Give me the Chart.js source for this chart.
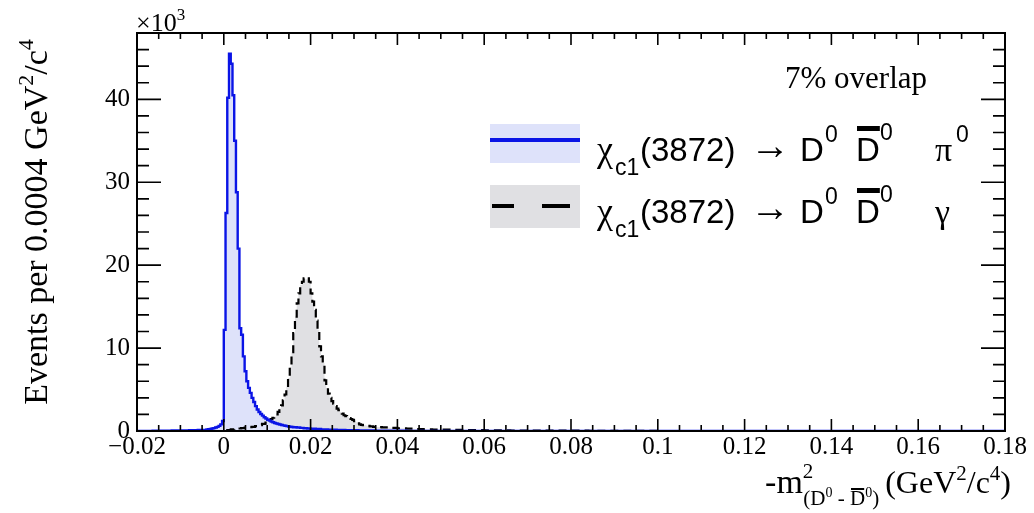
<!DOCTYPE html>
<html>
<head>
<meta charset="utf-8">
<script src="https://cdn.jsdelivr.net/npm/chart.js@4.4.1/dist/chart.umd.min.js"></script>
<style>
  html, body { margin: 0; padding: 0; background: #fff; }
  #wrap { width: 1034px; height: 513px; }
</style>
</head>
<body>
<div id="wrap"><canvas id="histo"></canvas></div>
<script>
// histogram bins (left edges, GeV^2/c^4) and contents (x10^3 events per 0.0004)
const piEdges = [-0.02, -0.0164, -0.012, -0.008, -0.006, -0.004, -0.0036, -0.0032, -0.0028, -0.0024,
  -0.002, -0.0016, -0.0012, -0.0008, -0.0004, 0.0, 0.0004, 0.0008, 0.0012, 0.0016,
  0.002, 0.0024, 0.0028, 0.0032, 0.0036, 0.004, 0.0044, 0.0048, 0.0052, 0.0056,
  0.006, 0.0064, 0.0068, 0.0072, 0.0076, 0.008, 0.0084, 0.0088, 0.0092, 0.0096,
  0.01, 0.0104, 0.0108, 0.0112, 0.0116, 0.012, 0.0124, 0.0128, 0.0132, 0.0136,
  0.014, 0.0144, 0.0148, 0.0152, 0.0156, 0.016, 0.0168, 0.0176, 0.0184, 0.0192,
  0.02, 0.0212, 0.0224, 0.024, 0.026, 0.028, 0.031, 0.035, 0.042, 0.052, 0.065, 0.18];
const piCounts = [0, 0.03, 0.06, 0.1, 0.14, 0.2, 0.22, 0.25, 0.3, 0.35,
  0.42, 0.5, 0.62, 0.8, 1.2, 12.2, 26.3, 40.2, 45.5, 44.3,
  40.5, 35.0, 28.8, 22.0, 12.4, 11.6, 9.0, 7.2, 6.0, 5.2,
  4.6, 4.0, 3.5, 3.0, 2.6, 2.3, 2.05, 1.85, 1.65, 1.5,
  1.35, 1.25, 1.15, 1.05, 0.97, 0.9, 0.84, 0.78, 0.73, 0.68,
  0.63, 0.59, 0.55, 0.52, 0.49, 0.46, 0.42, 0.38, 0.34, 0.31,
  0.28, 0.24, 0.2, 0.16, 0.12, 0.09, 0.06, 0.04, 0.02, 0.01, 0, 0];

const gammaEdges = [-0.02, 0.0, 0.0008, 0.0016, 0.0024, 0.0032, 0.004, 0.0048, 0.0056, 0.0064,
  0.0072, 0.008, 0.0088, 0.0096, 0.01, 0.0104, 0.0108, 0.0112, 0.0116, 0.012,
  0.0124, 0.0128, 0.0132, 0.0136, 0.014, 0.0144, 0.0148, 0.0152, 0.0156, 0.016,
  0.0164, 0.0168, 0.0172, 0.0176, 0.018, 0.0184, 0.0188, 0.0192, 0.0196, 0.02,
  0.0204, 0.0208, 0.0212, 0.0216, 0.022, 0.0224, 0.0228, 0.0232, 0.0236, 0.024,
  0.0244, 0.0248, 0.0252, 0.0256, 0.026, 0.0264, 0.0268, 0.0272, 0.0276, 0.028,
  0.0284, 0.0288, 0.0292, 0.0296, 0.03, 0.0304, 0.0308, 0.0312, 0.0316, 0.032,
  0.0328, 0.0336, 0.0344, 0.0352, 0.0364, 0.038, 0.04, 0.042, 0.044, 0.046,
  0.048, 0.052, 0.056, 0.06, 0.066, 0.074, 0.084, 0.1, 0.18];
const gammaCounts = [0, 0.05, 0.1, 0.2, 0.25, 0.3, 0.35, 0.4, 0.45, 0.5,
  0.6, 0.7, 0.85, 1.0, 1.15, 1.3, 1.45, 1.6, 1.75, 2.0,
  2.3, 2.7, 3.1, 3.7, 4.4, 5.3, 6.4, 7.7, 9.5, 11.8,
  13.8, 15.4, 16.6, 17.6, 18.0, 18.4, 18.3, 18.4, 18.0, 16.6,
  15.6, 14.6, 13.3, 12.2, 10.2, 9.0, 8.2, 6.1, 5.2, 4.5,
  4.0, 3.6, 3.3, 3.0, 2.7, 2.5, 2.3, 2.1, 1.9, 1.8,
  1.7, 1.55, 1.45, 1.35, 1.2, 1.05, 0.92, 0.8, 0.75, 0.7,
  0.62, 0.55, 0.5, 0.47, 0.43, 0.38, 0.33, 0.28, 0.24, 0.2,
  0.17, 0.13, 0.1, 0.08, 0.06, 0.04, 0.02, 0, 0];

const xMin = -0.02, xMax = 0.18, yMax = 48;

const SERIF = "'Liberation Serif', 'DejaVu Serif', serif";
const SANS = "'Liberation Sans', Arial, sans-serif";

function toPoints(edges, counts) {
  return edges.map((e, i) => ({ x: e, y: counts[i] }));
}

// draws a run of text pieces one after another; returns width
function textRun(ctx, x, y, parts, measureOnly) {
  let cx = x;
  parts.forEach(p => {
    ctx.font = p.f;
    const w = ctx.measureText(p.t).width;
    if (!measureOnly) {
      ctx.fillText(p.t, cx, y + (p.dy || 0));
      if (p.bar) {
        ctx.fillRect(cx + p.bar.x, y + (p.dy || 0) - p.bar.h, w - p.bar.x - 1, p.bar.t);
      }
    }
    cx += w + (p.gap || 0);
  });
  return cx - x;
}

const rootFrame = {
  id: 'rootFrame',
  afterDraw(chart) {
    const ctx = chart.ctx;
    const a = chart.chartArea;
    const xs = chart.scales.x, ys = chart.scales.y;
    ctx.save();
    ctx.strokeStyle = '#000';
    ctx.fillStyle = '#000';
    ctx.lineWidth = 2;
    ctx.strokeRect(a.left, a.top, a.right - a.left, a.bottom - a.top);

    // x ticks, pointing in, on bottom and top
    ctx.lineWidth = 1.6;
    for (let k = 0; k <= 40; k++) {
      const v = xMin + k * 0.005;
      const px = xs.getPixelForValue(v);
      const len = (k % 4 === 0) ? 12 : 6;
      ctx.beginPath();
      ctx.moveTo(px, a.bottom); ctx.lineTo(px, a.bottom - len);
      ctx.moveTo(px, a.top); ctx.lineTo(px, a.top + len);
      ctx.stroke();
    }
    // y ticks on left and right
    for (let v = 0; v <= yMax; v += 2) {
      const py = ys.getPixelForValue(v);
      const len = (v % 10 === 0) ? 24 : 12;
      ctx.beginPath();
      ctx.moveTo(a.left, py); ctx.lineTo(a.left + len, py);
      ctx.moveTo(a.right, py); ctx.lineTo(a.right - len, py);
      ctx.stroke();
    }

    ctx.textBaseline = 'alphabetic';
    ctx.textAlign = 'left';

    // x10^3
    textRun(ctx, 136, 31, [
      { t: '\u00d710', f: '26px ' + SERIF },
      { t: '3', f: '17px ' + SERIF, dy: -11 }
    ]);

    // y title, rotated
    const yParts = [
      { t: 'Events per 0.0004 GeV', f: '34px ' + SERIF },
      { t: '2', f: '22px ' + SERIF, dy: -14 },
      { t: '/c', f: '34px ' + SERIF },
      { t: '4', f: '22px ' + SERIF, dy: -14 }
    ];
    const yw = textRun(ctx, 0, 0, yParts, true);
    ctx.save();
    ctx.translate(47, 222 + yw / 2);
    ctx.rotate(-Math.PI / 2);
    textRun(ctx, 0, 0, yParts);
    ctx.restore();

    // x title
    const xParts = [
      { t: '-m', f: '34px ' + SERIF },
      { t: '2', f: '21px ' + SERIF, dy: -15, gap: -10 },
      { t: '(D', f: '21px ' + SERIF, dy: 12 },
      { t: '0', f: '14px ' + SERIF, dy: 4 },
      { t: ' - ', f: '21px ' + SERIF, dy: 12 },
      { t: 'D', f: '21px ' + SERIF, dy: 12, bar: { x: 1, h: 17, t: 2 } },
      { t: '0', f: '14px ' + SERIF, dy: 4 },
      { t: ')', f: '21px ' + SERIF, dy: 12, gap: 6 },
      { t: '(GeV', f: '32px ' + SERIF },
      { t: '2', f: '21px ' + SERIF, dy: -13 },
      { t: '/c', f: '32px ' + SERIF },
      { t: '4', f: '21px ' + SERIF, dy: -13 },
      { t: ')', f: '32px ' + SERIF }
    ];
    const xw = textRun(ctx, 0, 0, xParts, true);
    textRun(ctx, 1011 - xw, 493, xParts);

    // overlap note
    ctx.font = '31px ' + SERIF;
    ctx.fillText('7% overlap', 785, 88);

    // legend
    ctx.fillStyle = 'rgb(222,226,250)';
    ctx.fillRect(490, 124, 90, 39);
    ctx.fillStyle = 'rgb(224,224,227)';
    ctx.fillRect(490, 185, 90, 43);
    ctx.strokeStyle = '#0a14e6';
    ctx.lineWidth = 4;
    ctx.beginPath(); ctx.moveTo(490, 140); ctx.lineTo(580, 140); ctx.stroke();
    ctx.strokeStyle = '#000';
    ctx.beginPath();
    ctx.moveTo(492, 206); ctx.lineTo(514, 206);
    ctx.moveTo(542, 206); ctx.lineTo(570, 206);
    ctx.stroke();

    ctx.fillStyle = '#000';
    const rows = [[161, '\u03c0'], [223, '\u03b3']];
    rows.forEach(([by, last]) => {
      ctx.font = '36px ' + SERIF;
      ctx.fillText('\u03c7', 597, by);
      ctx.font = '23px ' + SANS;
      ctx.fillText('c1', 615, by + 14);
      ctx.font = '33px ' + SANS;
      ctx.fillText('(3872)', 640, by);
      ctx.font = '40px ' + SERIF;
      ctx.fillText('\u2192', 750, by - 2);
      ctx.font = '33px ' + SANS;
      ctx.fillText('D', 800, by);
      ctx.font = '23px ' + SANS;
      ctx.fillText('0', 825, by - 19);
      ctx.font = '33px ' + SANS;
      ctx.fillText('D', 856, by);
      const dw = ctx.measureText('D').width;
      ctx.fillRect(857, by - 35, dw - 1, 5);
      ctx.font = '23px ' + SANS;
      ctx.fillText('0', 880, by - 21);
      ctx.font = '34px ' + SERIF;
      ctx.fillText(last, 935, by);
      if (last === '\u03c0') {
        ctx.font = '23px ' + SANS;
        ctx.fillText('0', 956, by - 19);
      }
    });
    ctx.restore();
  }
};

new Chart(document.getElementById('histo'), {
  type: 'line',
  data: {
    datasets: [{
      label: 'pi0',
      data: toPoints(piEdges, piCounts),
      stepped: true,
      borderColor: '#0a14e6',
      backgroundColor: 'rgb(222,226,250)',
      borderWidth: 2.4,
      pointRadius: 0,
      fill: 'origin'
    }, {
      label: 'gamma',
      data: toPoints(gammaEdges, gammaCounts),
      stepped: true,
      borderColor: '#000',
      backgroundColor: 'rgb(224,224,227)',
      borderWidth: 2.2,
      borderDash: [8, 5],
      pointRadius: 0,
      fill: 'origin'
    }]
  },
  options: {
    responsive: true,
    maintainAspectRatio: false,
    animation: false,
    layout: { padding: { top: 33, right: 29, left: 0, bottom: 0 } },
    plugins: {
      legend: { display: false },
      tooltip: { enabled: false },
      filler: { drawTime: 'beforeDatasetsDraw' }
    },
    scales: {
      x: {
        type: 'linear',
        min: xMin,
        max: xMax,
        grid: { display: false, drawTicks: false },
        border: { display: false },
        afterFit: s => { s.height = 82; },
        ticks: {
          stepSize: 0.02,
          maxRotation: 0,
          autoSkip: false,
          padding: 1,
          color: '#000',
          font: { family: SERIF, size: 25 },
          callback: v => {
            const r = Math.round(v * 100) / 100;
            if (Math.abs(v * 50 - Math.round(v * 50)) > 1e-6) return '';
            return r < 0 ? '\u2212' + String(-r) : String(r);
          }
        }
      },
      y: {
        min: 0,
        max: yMax,
        grid: { display: false, drawTicks: false },
        border: { display: false },
        afterFit: s => { s.width = 137; },
        ticks: {
          stepSize: 10,
          includeBounds: false,
          padding: 7,
          color: '#000',
          font: { family: SERIF, size: 25 }
        }
      }
    }
  },
  plugins: [rootFrame]
});
</script>
</body>
</html>
